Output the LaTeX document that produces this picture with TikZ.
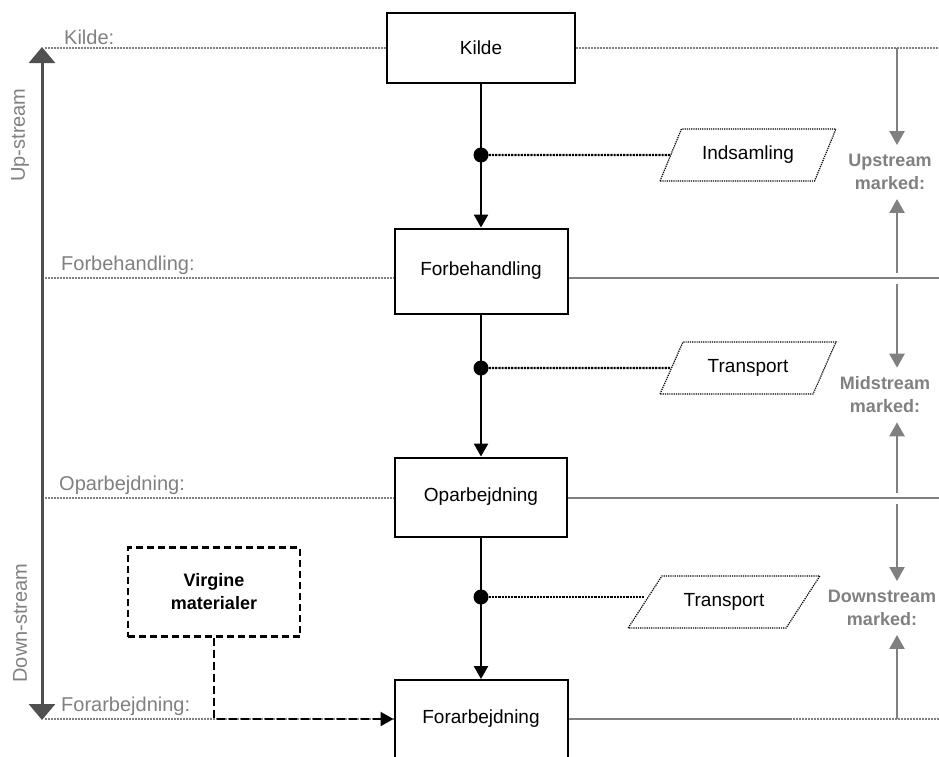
\documentclass[tikz,border=0pt]{standalone}
\usepackage{fontspec}
\setmainfont{Liberation Sans}
\usetikzlibrary{arrows.meta,shapes.geometric,positioning}

\definecolor{lgray}{RGB}{128,128,128}
\definecolor{dgray}{RGB}{80,80,80}

\tikzset{
	stage/.style={draw, line width=2pt, fill=white, font=\fontsize{19}{23}\selectfont},
	medium/.style={draw, trapezium, trapezium stretches=true, densely dotted, line width=1.2pt,
		trapezium left angle=57, trapezium right angle=123, minimum width=176pt,
		minimum height=52pt, fill=white, font=\fontsize{19}{23}\selectfont},
	joint/.style={circle, fill=black, inner sep=0pt, minimum size=15pt},
	flow/.style={line width=2.5pt, -{Triangle[width=14pt,length=13pt]}},
	feed/.style={densely dotted, line width=2.2pt},
	gline/.style={lgray, line width=2.5pt},
	gdots/.style={lgray, line width=2.5pt, dash pattern=on 2pt off 1pt},
	glabel/.style={lgray, inner sep=1pt, font=\fontsize{20}{24}\selectfont},
	mlabel/.style={lgray, align=center, inner xsep=1pt, inner ysep=9pt, font=\fontsize{18}{23}\selectfont\bfseries},
	garrow/.style={lgray, line width=2.5pt, -{Triangle[width=15pt,length=14pt]}}
}

\begin{document}
\begin{tikzpicture}[x=1pt,y=-1pt]
	\useasboundingbox (0,0) rectangle (939,756);

	% levels
	\coordinate (k-l) at (45,48);
	\coordinate (k-r) at (939,48);
	\coordinate (f-l) at (45,278);
	\coordinate (f-r) at (939,278);
	\coordinate (o-l) at (45,498);
	\coordinate (o-r) at (939,498);
	\coordinate (a-l) at (45,719);
	\coordinate (a-r) at (939,719);
	\coordinate (a-m) at (790,719);

	\draw[gdots] (k-l) -- (k-r);
	\draw[gdots] (f-l) -- (f-l -| 481,0);
	\draw[gline] (f-l -| 481,0) -- (f-r);
	\draw[gdots] (o-l) -- (o-l -| 481,0);
	\draw[gline] (o-l -| 481,0) -- (o-r);
	\draw[gdots] (a-l) -- (a-l -| 481,0);
	\draw[gline] (a-l -| 481,0) -- (a-m);
	\draw[gdots] (a-m) -- (a-r);

	\node[glabel, anchor=south west] (kl) at (63,46) {Kilde:};
	\node[glabel, anchor=south west] (fl) at (60,276) {Forbehandling:};
	\node[glabel, anchor=south west] (ol) at (58,496) {Oparbejdning:};
	\node[glabel, anchor=south west] (al) at (60,717) {Forarbejdning:};

	% up/down stream axis
	\coordinate (top) at (42,47);
	\coordinate (bot) at (42,720);
	\draw[dgray, line width=3pt, {Triangle[width=26pt,length=16pt]}-{Triangle[width=26pt,length=16pt]}] (top) -- (bot);
	\node[glabel, rotate=90] (ups) at (20,135) {Up-stream};
	\node[glabel, rotate=90] (downs) at (20,623) {Down-stream};

	% chain
	\node[stage, minimum width=188pt, minimum height=70pt] (kilde) at (481,48) {Kilde};
	\node[stage, minimum width=173pt, minimum height=85pt] (forb) at (481,271) {Forbehandling};
	\node[stage, minimum width=172pt, minimum height=79pt] (opar) at (481,497) {Oparbejdning};
	\node[stage, minimum width=173pt, minimum height=78pt] (forarb) at (481,719) {Forarbejdning};

	\draw[flow] (kilde) -- (forb);
	\draw[flow] (forb) -- (opar);
	\draw[flow] (opar) -- (forarb);

	\node[joint] (d1) at (481,155) {};
	\node[joint] (d2) at (481,368) {};
	\node[joint] (d3) at (481,597) {};

	\node[medium] (ind) at (748,155) {Indsamling};
	\node[medium] (tr1) at (748,368) {Transport};
	\node[medium, trapezium left angle=45, trapezium right angle=135, minimum width=192pt] (tr2) at (724,602) {Transport};

	\draw[feed] (d1) -- (ind);
	\draw[feed] (d2) -- (tr1);
	\draw[feed] (d3) -- (d3 -| tr2.west);

	% virgin input
	\node[draw, dash pattern=on 7pt off 4pt, line width=2.2pt, minimum width=172pt, minimum height=89pt,
		align=center, font=\fontsize{18}{23}\selectfont\bfseries] (vir) at (214,592) {Virgine\\materialer};
	\draw[dash pattern=on 8pt off 4pt, line width=2.2pt, -{Triangle[width=14pt,length=13pt]}]
		(vir) -- (vir |- forarb) -- (forarb);

	% markets
	\node[mlabel] (upm) at (890,172) {Upstream\\marked:};
	\node[mlabel] (midm) at (885,395) {Midstream\\marked:};
	\node[mlabel] (downm) at (882,608) {Downstream\\marked:};

	\coordinate (u1) at (897,48);
	\coordinate (u2) at (897,273);
	\coordinate (m1) at (897,284);
	\coordinate (m2) at (897,493);
	\coordinate (n1) at (897,504);
	\coordinate (n2) at (897,719);

	\draw[garrow] (u1) -- (u1 |- upm.north);
	\draw[garrow] (u2) -- (u2 |- upm.south);
	\draw[garrow] (m1) -- (m1 |- midm.north);
	\draw[garrow] (m2) -- (m2 |- midm.south);
	\draw[garrow] (n1) -- (n1 |- downm.north);
	\draw[garrow] (n2) -- (n2 |- downm.south);
\end{tikzpicture}
\end{document}
